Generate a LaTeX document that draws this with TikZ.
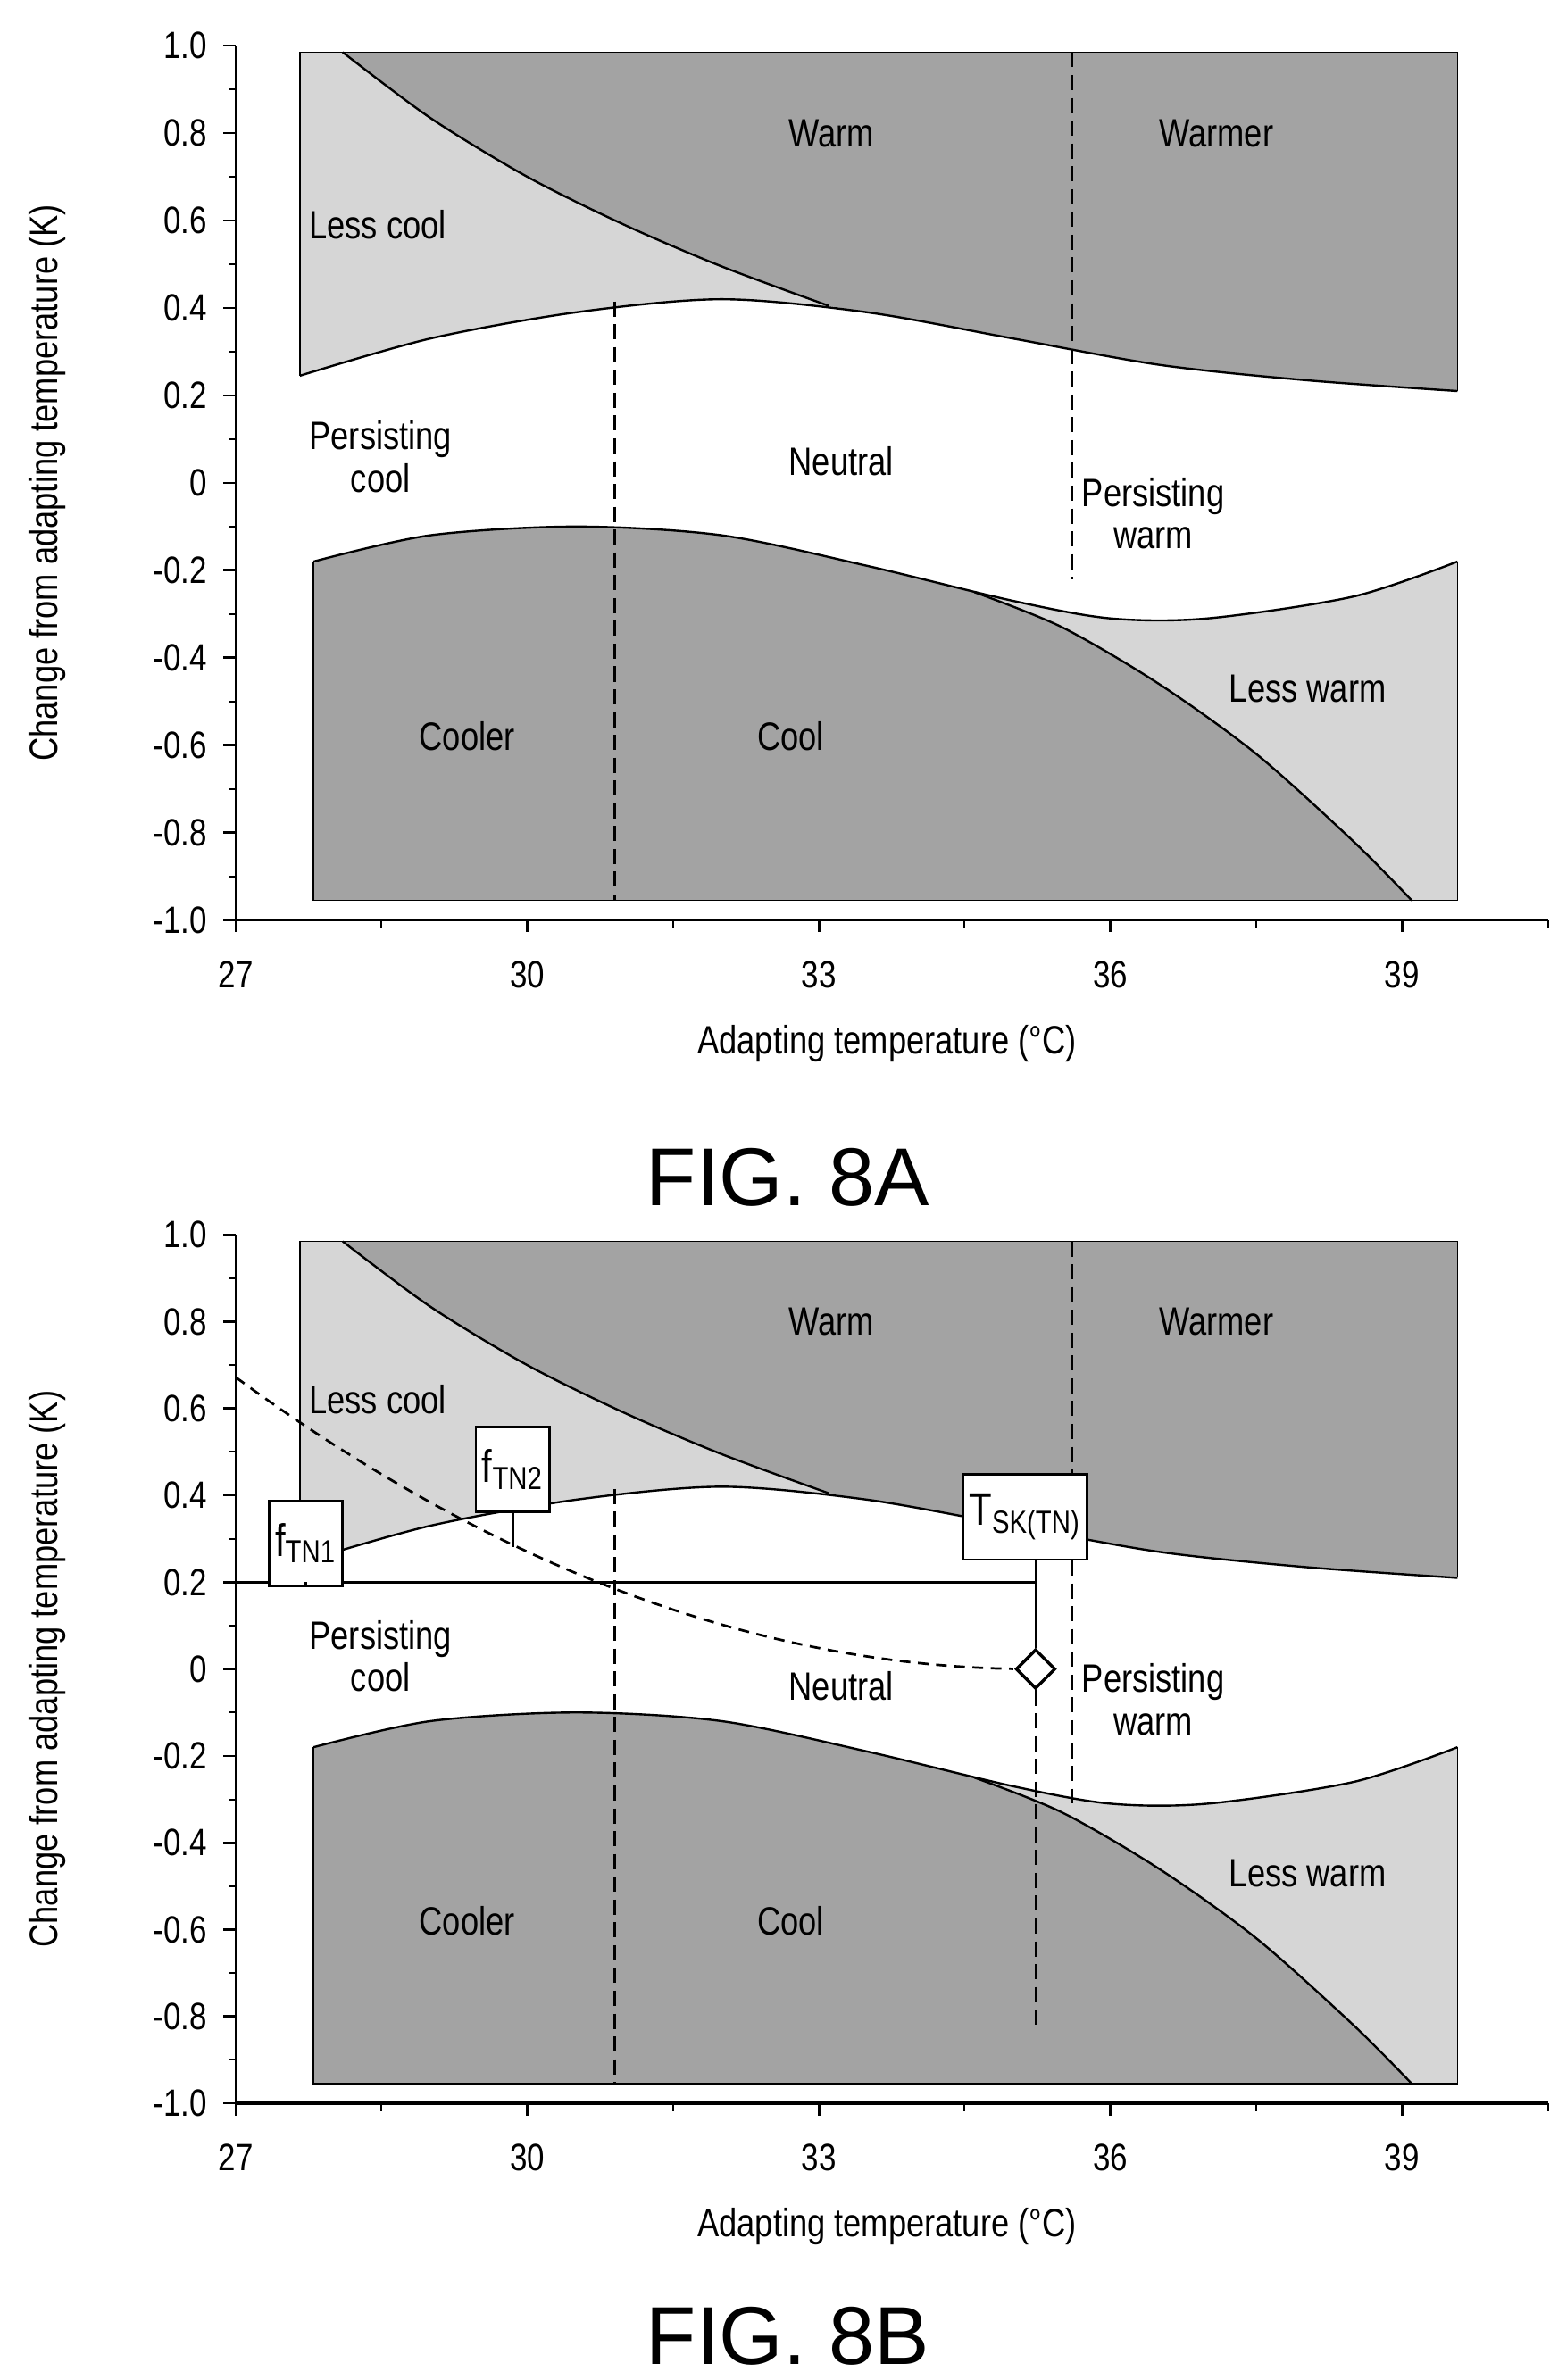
\documentclass[tikz,border=0pt]{standalone}
\usepackage{fontspec}
\setmainfont[FakeStretch=0.82]{Liberation Sans}
\newfontfamily\figfont{Liberation Sans}
\usetikzlibrary{shapes.geometric}
\tikzset{
 dense/.style={fill=black!36},
 light/.style={fill=black!16},
 bound/.style={draw=black,line width=0.7pt},
 lab/.style={font=\fontsize{13}{14}\selectfont,align=center},
 tick/.style={font=\fontsize{12.5}{13}\selectfont},
 vdash/.style={draw=black,dashed,line width=0.8pt,dash pattern=on 5pt off 2.5pt},
 fbox/.style={draw=black,fill=white,line width=0.8pt,inner sep=2pt,minimum height=28pt,font=\fontsize{15}{16}\selectfont},
 figlab/.style={font=\figfont\fontsize{27}{28}\selectfont},
}
\newcommand\plotbody[1]{%
 \fill[light] (27.66,0.985) -- (39.57,0.985) -- plot[smooth] coordinates {(39.57,0.21) (38,0.235) (36.5,0.27) (35,0.33) (33.5,0.39) (32,0.42) (30.5,0.39) (29,0.33) (27.66,0.245)} -- cycle;
 \fill[dense] (28.1,0.985) -- plot[smooth] coordinates {(28.1,0.985) (29,0.835) (30,0.70) (31,0.59) (32,0.495) (33.1,0.405)} -- plot[smooth] coordinates {(33.5,0.39) (35,0.33) (36.5,0.27) (38,0.235) (39.57,0.21)} -- (39.57,0.985) -- cycle;
 \draw[bound] plot[smooth] coordinates {(27.66,0.245) (29,0.33) (30.5,0.39) (32,0.42) (33.5,0.39) (35,0.33) (36.5,0.27) (38,0.235) (39.57,0.21)};
 \draw[bound] plot[smooth] coordinates {(28.1,0.985) (29,0.835) (30,0.70) (31,0.59) (32,0.495) (33.1,0.405)};
 \fill[light] (27.8,-0.955) -- plot[smooth] coordinates {(27.8,-0.18) (29,-0.12) (30.5,-0.10) (32,-0.12) (33.5,-0.19) (35,-0.27) (36,-0.31) (37,-0.31) (38.5,-0.26) (39.57,-0.18)} -- (39.57,-0.955) -- cycle;
 \fill[dense] (27.8,-0.955) -- plot[smooth] coordinates {(27.8,-0.18) (29,-0.12) (30.5,-0.10) (32,-0.12) (33.5,-0.19) (34.6,-0.25)} -- plot[smooth] coordinates {(34.6,-0.25) (35.5,-0.33) (36.5,-0.46) (37.5,-0.62) (38.5,-0.82) (39.1,-0.955)} -- cycle;
 \draw[bound] plot[smooth] coordinates {(27.8,-0.18) (29,-0.12) (30.5,-0.10) (32,-0.12) (33.5,-0.19) (35,-0.27) (36,-0.31) (37,-0.31) (38.5,-0.26) (39.57,-0.18)};
 \draw[bound] plot[smooth] coordinates {(34.6,-0.25) (35.5,-0.33) (36.5,-0.46) (37.5,-0.62) (38.5,-0.82) (39.1,-0.955)};
 \draw[line width=0.5pt] (27.8,-0.18) -- (27.8,-0.955) -- (39.57,-0.955) -- (39.57,-0.18);
 \draw[line width=0.5pt] (27.66,0.245) -- (27.66,0.985) -- (39.57,0.985) -- (39.57,0.21);
 \draw[vdash] (30.9,0.415) -- (30.9,-0.955);
 \draw[line width=0.9pt] (27,1) -- (27,-1) -- ++(0,-4pt);
 \draw[line width=0.9pt] (27,-1) -- (40.5,-1);
 \foreach \v/\l in {1/1.0,0.8/0.8,0.6/0.6,0.4/0.4,0.2/0.2,0/0,-0.2/-0.2,-0.4/-0.4,-0.6/-0.6,-0.8/-0.8,-1/-1.0}{
  \draw[line width=0.8pt] (27,\v) -- ++(-4pt,0);
  \node[tick,anchor=east] at ([xshift=-6pt]27,\v) {\l};}
 \foreach \v in {0.9,0.7,0.5,0.3,0.1,-0.1,-0.3,-0.5,-0.7,-0.9}{\draw[line width=0.6pt] (27,\v) -- ++(-2.5pt,0);}
 \foreach \t in {30,33,36,39}{\draw[line width=0.8pt] (\t,-1) -- ++(0,-4pt);}
 \foreach \t in {28.5,31.5,34.5,37.5,40.5}{\draw[line width=0.6pt] (\t,-1) -- ++(0,-2.5pt);}
 \foreach \t in {27,30,33,36,39}{\node[tick,anchor=north] at ([yshift=-10pt]\t,-1) {\t};}
 \node[lab,anchor=north] (xl#1) at ([yshift=-31pt]33.7,-1) {Adapting temperature (°C)};
 \node[lab,rotate=90] (yl#1) at ([xshift=-62pt]27,0) {Change from adapting temperature (K)};
 \node[lab] (warm#1) at (33.13,0.80) {Warm};
 \node[lab] (warmer#1) at (37.09,0.80) {Warmer};
 \node[lab] (pwarm#1) at (36.44,-0.07) {Persisting\\warm};
 \node[lab] (lesswarm#1) at (38.03,-0.47) {Less warm};
 \node[lab] (cooler#1) at (29.38,-0.58) {Cooler};
 \node[lab] (cool#1) at (32.71,-0.58) {Cool};
}
\begin{document}
\begin{tikzpicture}
\useasboundingbox (0,0) rectangle (512pt,-782.5pt);
\begin{scope}[shift={(-785.15pt,-158.75pt)},x=31.95pt,y=143.75pt]
 \plotbody{a}
 \node[lab] (lesscoola) at (28.46,0.59) {Less cool};
 \node[lab] (pcoola) at (28.49,0.06) {Persisting\\cool};
 \node[lab] (neutrala) at (33.23,0.05) {Neutral};
 \draw[vdash] (35.6,0.985) -- (35.6,-0.22);
\end{scope}
\node[figlab] (figa) at (259pt,-387pt) {FIG. 8A};
\begin{scope}[shift={(-785.15pt,-548.75pt)},x=31.95pt,y=142.75pt]
 \plotbody{b}
 \node[lab] (lesscoolb) at (28.46,0.62) {Less cool};
 \node[lab] (pcoolb) at (28.49,0.03) {Persisting\\cool};
 \node[lab] (neutralb) at (33.23,-0.04) {Neutral};
 \draw[vdash] (35.6,0.985) -- (35.6,0.37);
 \draw[vdash] (35.6,0.25) -- (35.6,-0.31);
 \draw[line width=0.8pt] (27,0.2) -- (35.23,0.2);
 \draw[dashed,line width=0.8pt,dash pattern=on 3.5pt off 2.5pt] plot[domain=27:35.0,samples=40] (\x,{0.01*(35.2-\x)^2});
 \node[diamond,draw=black,fill=white,line width=1pt,minimum width=13pt,minimum height=13pt,inner sep=0pt] (dia) at (35.23,0.0) {};
 \coordinate (dend) at (35.23,-0.83);
 \draw[vdash] (dia.south) -- (dend);
 \node[fbox] (tsk) at (35.12,0.35) {T\textsubscript{SK(TN)}};
 \draw[line width=0.8pt] (tsk.south -| dia) -- (dia.north);
 \node[fbox] (f1) at (27.72,0.29) {f\textsubscript{TN1}};
 \coordinate (f1e) at (27.72,0.2);
 \draw[line width=0.8pt] (f1.south) -- (f1e);
 \node[fbox] (f2) at (29.85,0.46) {f\textsubscript{TN2}};
 \coordinate (f2e) at (29.85,0.28);
 \draw[line width=0.8pt] (f2.south) -- (f2e);
\end{scope}
\node[figlab] (figb) at (259pt,-768pt) {FIG. 8B};
\end{tikzpicture}
\end{document}
